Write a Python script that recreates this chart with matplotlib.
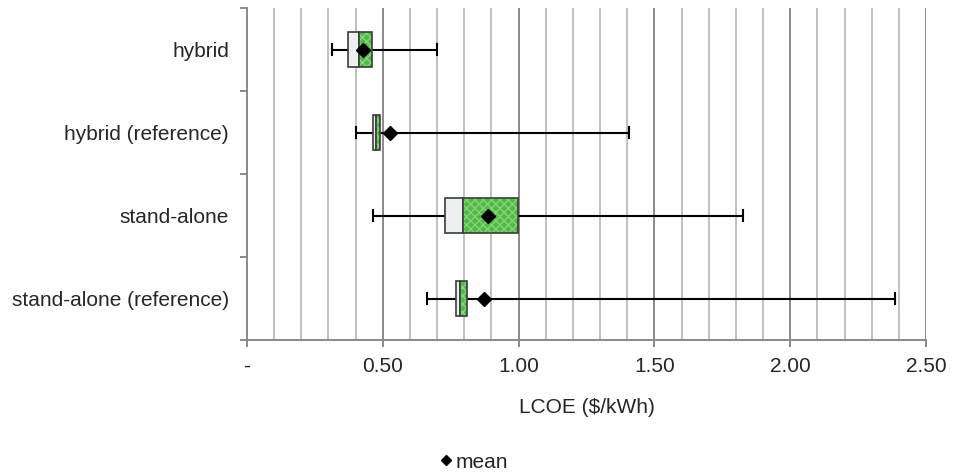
import matplotlib
matplotlib.use("Agg")
import matplotlib.pyplot as plt
from matplotlib.lines import Line2D
from matplotlib.ticker import MultipleLocator, FixedLocator, NullFormatter

plt.rcParams['font.family'] = ['Liberation Sans', 'DejaVu Sans']

categories = ["hybrid", "hybrid (reference)", "stand-alone", "stand-alone (reference)"]
whisker_min = [0.312, 0.401, 0.464, 0.661]
q1 = [0.372, 0.465, 0.728, 0.770]
median = [0.414, 0.474, 0.797, 0.784]
q3 = [0.461, 0.491, 0.999, 0.811]
whisker_max = [0.701, 1.407, 1.828, 2.386]
means = [0.428, 0.527, 0.889, 0.873]
xtick_values = [0.0, 0.5, 1.0, 1.5, 2.0, 2.5]
xtick_labels = ["-", "0.50", "1.00", "1.50", "2.00", "2.50"]

fig = plt.figure(figsize=(9.55, 4.74), dpi=100)
ax = fig.add_axes([247/955, 1-340/474, (926-247)/955, (340-8)/474])

n = len(categories)
ypos = [n - 0.5 - i for i in range(n)]
box_h = 0.41
text_col = '#262626'
edge_col = '#3c3c3c'
fs = 15

ax.set_xlim(0, 2.5)
ax.set_ylim(0, n)

# gridlines
ax.xaxis.set_major_locator(FixedLocator(xtick_values))
ax.xaxis.set_minor_locator(MultipleLocator(0.1))
ax.grid(True, axis='x', which='minor', color='#c0c0c0', linewidth=1.4, zorder=0)
ax.grid(True, axis='x', which='major', color='#8a8a8a', linewidth=1.4, zorder=0)
ax.set_axisbelow(True)

for i in range(n):
    y = ypos[i]
    # whiskers
    ax.plot([whisker_min[i], q1[i]], [y, y], color='black', lw=1.5, zorder=3, solid_capstyle='butt')
    ax.plot([q3[i], whisker_max[i]], [y, y], color='black', lw=1.5, zorder=3, solid_capstyle='butt')
    for xv in (whisker_min[i], whisker_max[i]):
        ax.plot([xv, xv], [y - 0.07, y + 0.07], color='black', lw=1.5, zorder=3)
    # lower half of box
    ax.barh(y, median[i] - q1[i], left=q1[i], height=box_h, color='#eeeff1',
            edgecolor=edge_col, linewidth=1.2, zorder=4)
    # upper half with pattern
    ax.barh(y, q3[i] - median[i], left=median[i], height=box_h, color='#4fbb45',
            edgecolor='#86d37a', hatch='xxxx', linewidth=0, zorder=4)
    ax.barh(y, q3[i] - median[i], left=median[i], height=box_h, fill=False,
            edgecolor=edge_col, linewidth=1.2, zorder=5)
    # mean
    ax.plot(means[i], y, marker='D', color='black', markersize=7, linestyle='none', zorder=6)

ax.set_xticklabels(xtick_labels)
ax.xaxis.set_minor_formatter(NullFormatter())
ax.tick_params(axis='x', which='major', length=5, width=1.4, color='#8a8a8a', labelsize=fs,
               labelcolor=text_col, pad=7)
ax.tick_params(axis='x', which='minor', length=0)

ax.yaxis.set_major_locator(FixedLocator(list(range(n + 1))))
ax.yaxis.set_major_formatter(NullFormatter())
ax.yaxis.set_minor_locator(FixedLocator(ypos))
ax.set_yticklabels(categories, minor=True)
ax.tick_params(axis='y', which='major', length=5, width=1.4, color='#8a8a8a')
ax.tick_params(axis='y', which='minor', length=0, labelsize=fs, labelcolor=text_col, pad=13)

for s in ['top', 'right']:
    ax.spines[s].set_visible(False)
for s in ['left', 'bottom']:
    ax.spines[s].set_color('#8a8a8a')
    ax.spines[s].set_linewidth(1.4)

ax.set_xlabel("LCOE (\\$/kWh)", fontsize=fs, color=text_col, labelpad=16)

handle = Line2D([], [], marker='D', color='black', linestyle='none', markersize=5)
fig.legend([handle], ['mean'], loc='center', bbox_to_anchor=(0.495, 1 - 462/474),
           frameon=False, fontsize=fs, handletextpad=0.0, handlelength=0.9,
           labelcolor=text_col)

fig.savefig("out.png", dpi=100)
